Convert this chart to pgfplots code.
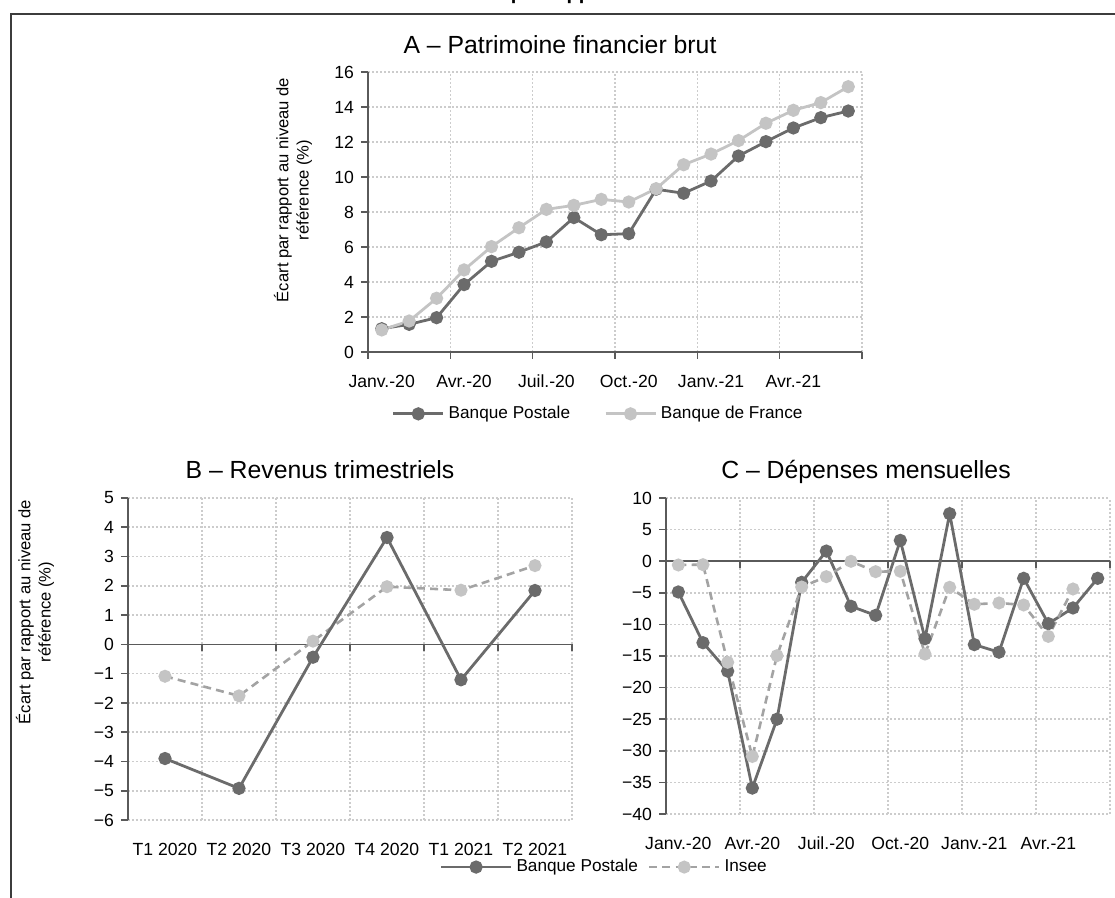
\documentclass[border=0pt]{standalone}
\usepackage{fontspec}
\setmainfont{Liberation Sans}
\usepackage{pgfplots}
\pgfplotsset{compat=1.18}
\definecolor{bp}{HTML}{6B6B6B}
\definecolor{lg}{HTML}{C4C4C4}
\definecolor{ins}{HTML}{A3A3A3}
\definecolor{axc}{HTML}{5A5A5A}
\definecolor{grd}{HTML}{CCCCCC}
\definecolor{frm}{HTML}{3C3C3C}

\pgfplotstableread{
x bp bdf
0 1.33 1.26
1 1.58 1.77
2 1.96 3.07
3 3.85 4.69
4 5.18 6.02
5 5.70 7.10
6 6.29 8.15
7 7.68 8.38
8 6.70 8.72
9 6.76 8.57
10 9.30 9.33
11 9.07 10.70
12 9.77 11.31
13 11.20 12.08
14 12.02 13.07
15 12.80 13.81
16 13.39 14.25
17 13.77 15.16
}\tabA

\pgfplotstableread{
x bp ins
0 -3.90 -1.09
1 -4.92 -1.76
2 -0.44 0.11
3 3.65 1.97
4 -1.21 1.85
5 1.84 2.69
}\tabB

\pgfplotstableread{
x bp
0 -4.87
1 -12.9
2 -17.4
3 -35.9
4 -25.0
5 -3.35
6 1.6
7 -7.14
8 -8.57
9 3.29
10 -12.26
11 7.52
12 -13.2
13 -14.4
14 -2.71
15 -9.88
16 -7.4
17 -2.71
}\tabCbp

\pgfplotstableread{
x ins
0 -0.6
1 -0.55
2 -16.0
3 -30.9
4 -14.95
5 -4.08
6 -2.45
7 -0.02
8 -1.66
9 -1.6
10 -14.7
11 -4.13
12 -6.82
13 -6.61
14 -6.93
15 -11.9
16 -4.4
}\tabCins

\pgfplotsset{
  panel/.style={
    scale only axis,
    clip=false,
    axis y line*=left,
    axis x line*=bottom,
    axis line style={draw=axc, line width=0.8pt},
    tick align=outside,
    major tick length=3.5pt,
    minor tick length=3.5pt,
    tick style={draw=axc, line width=0.8pt},
    major x tick style={draw=none},
    ymajorgrids=true,
    xminorgrids=true,
    major grid style={draw=grd, line width=0.8pt, dash pattern=on 0.8pt off 1.2pt},
    minor grid style={draw=grd, line width=0.8pt, dash pattern=on 0.8pt off 1.2pt},
    tick label style={font=\fontsize{8.8}{10}\selectfont},
    xticklabel style={yshift=-4.5pt},
    /pgf/number format/assume math mode=true,
    legend cell align=left,
    legend style={draw=none, fill=none, font=\fontsize{8.6}{10}\selectfont, legend columns=2},
  },
  bpstyle/.style={color=bp, line width=1.4pt, mark=*, mark size=2.6pt, mark options={solid, fill=bp, draw=bp}},
  bdfstyle/.style={color=lg, line width=1.4pt, mark=*, mark size=2.6pt, mark options={solid, fill=lg, draw=lg}},
  insstyle/.style={color=ins, line width=1.3pt, dash pattern=on 4pt off 2.6pt, mark=*, mark size=2.6pt, mark options={solid, fill=lg, draw=lg}},
  legline/.style={legend image code/.code={\draw[mark repeat=2, mark phase=2] plot coordinates {(0pt,0pt) (#1,0pt) (2*#1,0pt)};}},
}

\begin{document}
\begin{tikzpicture}
\useasboundingbox (0pt,0pt) rectangle (557.5pt,449pt);
% cut-off figure title and frame
\node[anchor=base, font=\bfseries\fontsize{10}{12}\selectfont, inner sep=0pt] at (283pt,449.2pt) {Écarts des indicateurs par rapport au niveau de référence};
\draw[frm, line width=1.1pt] (5.5pt,-5pt) -- (5.5pt,442pt) -- (565pt,442pt);

% ---------- Panel A ----------
\begin{axis}[panel, at={(184pt,273pt)}, anchor=south west,
  width=247pt, height=140pt,
  xmin=-0.5, xmax=17.5, ymin=0, ymax=16,
  ytick={0,2,...,16},
  xtick={0,3,...,15},
  xticklabels={Janv.-20, Avr.-20, Juil.-20, Oct.-20, Janv.-21, Avr.-21},
  minor xtick={-0.5,2.5,...,17.5},
  legend style={at={(0.468,-0.221)}, anchor=center,
    /tikz/every even column/.append style={column sep=15pt}},
  legline=12.5pt,
]
\addplot[bpstyle] table[x=x, y=bp] {\tabA};
\addlegendentry{Banque Postale}
\addplot[bdfstyle] table[x=x, y=bdf] {\tabA};
\addlegendentry{Banque de France}
\end{axis}
\node[font=\fontsize{12.4}{14}\selectfont] at (280pt,426.5pt) {A – Patrimoine financier brut};
\node[rotate=90, align=center, font=\fontsize{8.3}{10.2}\selectfont] at (146.5pt,354pt) {Écart par rapport au niveau de\\référence (\%)};

% ---------- Panel B ----------
\begin{axis}[panel, at={(64pt,39pt)}, anchor=south west,
  width=222pt, height=161pt,
  xmin=-0.5, xmax=5.5, ymin=-6, ymax=5,
  ytick={-6,-5,...,5},
  yticklabels={−6,−5,−4,−3,−2,−1,0,1,2,3,4,5},
  xtick={0,...,5},
  xticklabels={T1 2020, T2 2020, T3 2020, T4 2020, T1 2021, T2 2021},
  minor xtick={-0.5,0.5,...,5.5},
  minor x tick style={draw=none},
  x axis line style={draw=none},
]
\draw[axc, line width=0.8pt] (axis cs:-0.5,0) -- (axis cs:5.5,0);
\pgfplotsinvokeforeach{-0.5,0.5,1.5,2.5,3.5,4.5,5.5}{
  \draw[axc, line width=0.8pt] (axis cs:#1,0) -- ([yshift=-3.5pt]axis cs:#1,0);
}
\addplot[insstyle] table[x=x, y=ins] {\tabB};
\addplot[bpstyle] table[x=x, y=bp] {\tabB};
\end{axis}
\node[font=\fontsize{12.4}{14}\selectfont] at (160pt,214pt) {B – Revenus trimestriels};
\node[rotate=90, align=center, font=\fontsize{8.3}{10.2}\selectfont] at (17.5pt,143pt) {Écart par rapport au niveau de\\référence (\%)};

% ---------- Panel C ----------
\begin{axis}[panel, at={(333pt,42pt)}, anchor=south west,
  width=222pt, height=158pt,
  xmin=-0.5, xmax=17.5, ymin=-40, ymax=10,
  ytick={-40,-35,...,10},
  yticklabels={−40,−35,−30,−25,−20,−15,−10,−5,0,5,10},
  xtick={0,3,...,15},
  xticklabels={Janv.-20, Avr.-20, Juil.-20, Oct.-20, Janv.-21, Avr.-21},
  minor xtick={-0.5,2.5,...,17.5},
  minor x tick style={draw=none},
  x axis line style={draw=none},
  legend style={at={(-0.137,-0.168)}, anchor=center,
    /tikz/every even column/.append style={column sep=3pt}},
  legline=17.5pt,
]
\draw[axc, line width=0.8pt] (axis cs:-0.5,0) -- (axis cs:17.5,0);
\pgfplotsinvokeforeach{-0.5,2.5,5.5,8.5,11.5,14.5,17.5}{
  \draw[axc, line width=0.8pt] (axis cs:#1,0) -- ([yshift=-3.5pt]axis cs:#1,0);
}
\addplot[bpstyle] table[x=x, y=bp] {\tabCbp};
\addlegendentry{Banque Postale}
\addplot[insstyle] table[x=x, y=ins] {\tabCins};
\addlegendentry{Insee}
\end{axis}
\node[font=\fontsize{12.4}{14}\selectfont] at (433pt,213pt) {C – Dépenses mensuelles};
\end{tikzpicture}
\end{document}
